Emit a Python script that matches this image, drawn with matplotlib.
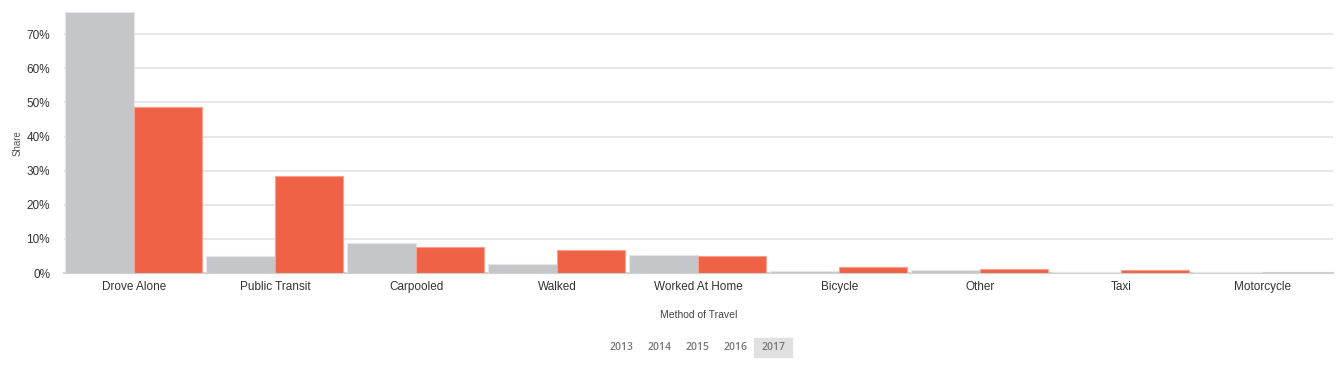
import numpy as np
import matplotlib.pyplot as plt
from matplotlib.ticker import PercentFormatter

# Share by method of travel, two series (gray = comparison, red = selected)
methods = ['Drove Alone', 'Public Transit', 'Carpooled', 'Walked', 'Worked At Home',
           'Bicycle', 'Other', 'Taxi', 'Motorcycle']
share_gray = [76.4, 5.0, 8.8, 2.6, 5.3, 0.6, 0.9, 0.4, 0.4]
share_red = [48.6, 28.4, 7.6, 6.7, 5.0, 1.8, 1.2, 0.9, 0.05]
years = ['2013', '2014', '2015', '2016', '2017']

plt.rcParams['font.family'] = ['Liberation Sans', 'DejaVu Sans']

fig = plt.figure(figsize=(13.38, 3.66), dpi=100)
ax = fig.add_axes([64 / 1338, 1 - 273 / 366, 1269 / 1338, 261 / 366])

x = np.arange(len(methods))
w = 0.485
ax.bar(x - w / 2 - 0.005, share_gray, width=w, color='#c5c6ca', edgecolor='#e6e6e8', linewidth=0.8, zorder=3)
ax.bar(x + w / 2 - 0.005, share_red, width=w, color='#f06245', edgecolor='#f6a090', linewidth=0.8, zorder=3)

ax.set_xlim(-0.5, len(methods) - 0.5)
ax.set_ylim(0, 76.5)
ax.set_yticks(np.arange(0, 80, 10))
ax.yaxis.set_major_formatter(PercentFormatter(decimals=0))
ax.grid(axis='y', color='#e3e3e3', linewidth=1.2, zorder=0)
ax.set_xticks(x)
ax.set_xticklabels(methods)
ax.tick_params(axis='both', length=0, labelsize=8.5, colors='#333333')
ax.tick_params(axis='x', pad=6)
ax.tick_params(axis='y', pad=10)

for side in ['top', 'right', 'left']:
    ax.spines[side].set_visible(False)
ax.spines['bottom'].set_color('#d0d0d0')
ax.spines['bottom'].set_linewidth(1.5)

fig.text(18 / 1338, 1 - 143 / 366, 'Share', rotation=90, ha='center', va='center',
         fontsize=7, color='#555555')
ax.set_xlabel('Method of Travel', fontsize=7.5, color='#444444', labelpad=12)

# year selector below the chart
xs = [621, 659, 697, 735, 773]
for yr, xp in zip(years, xs):
    if yr == '2017':
        fig.patches.append(plt.Rectangle(((xp - 19) / 1338, 1 - 357 / 366), 38 / 1338, 19 / 366,
                                         transform=fig.transFigure, color='#e0e0e0', zorder=0))
    fig.text(xp / 1338, 1 - 348 / 366, yr, ha='center', va='center', fontsize=7.5,
             color='#777777', fontweight='semibold', family=['Open Sans', 'DejaVu Sans'])

fig.savefig('out.png', dpi=100)
